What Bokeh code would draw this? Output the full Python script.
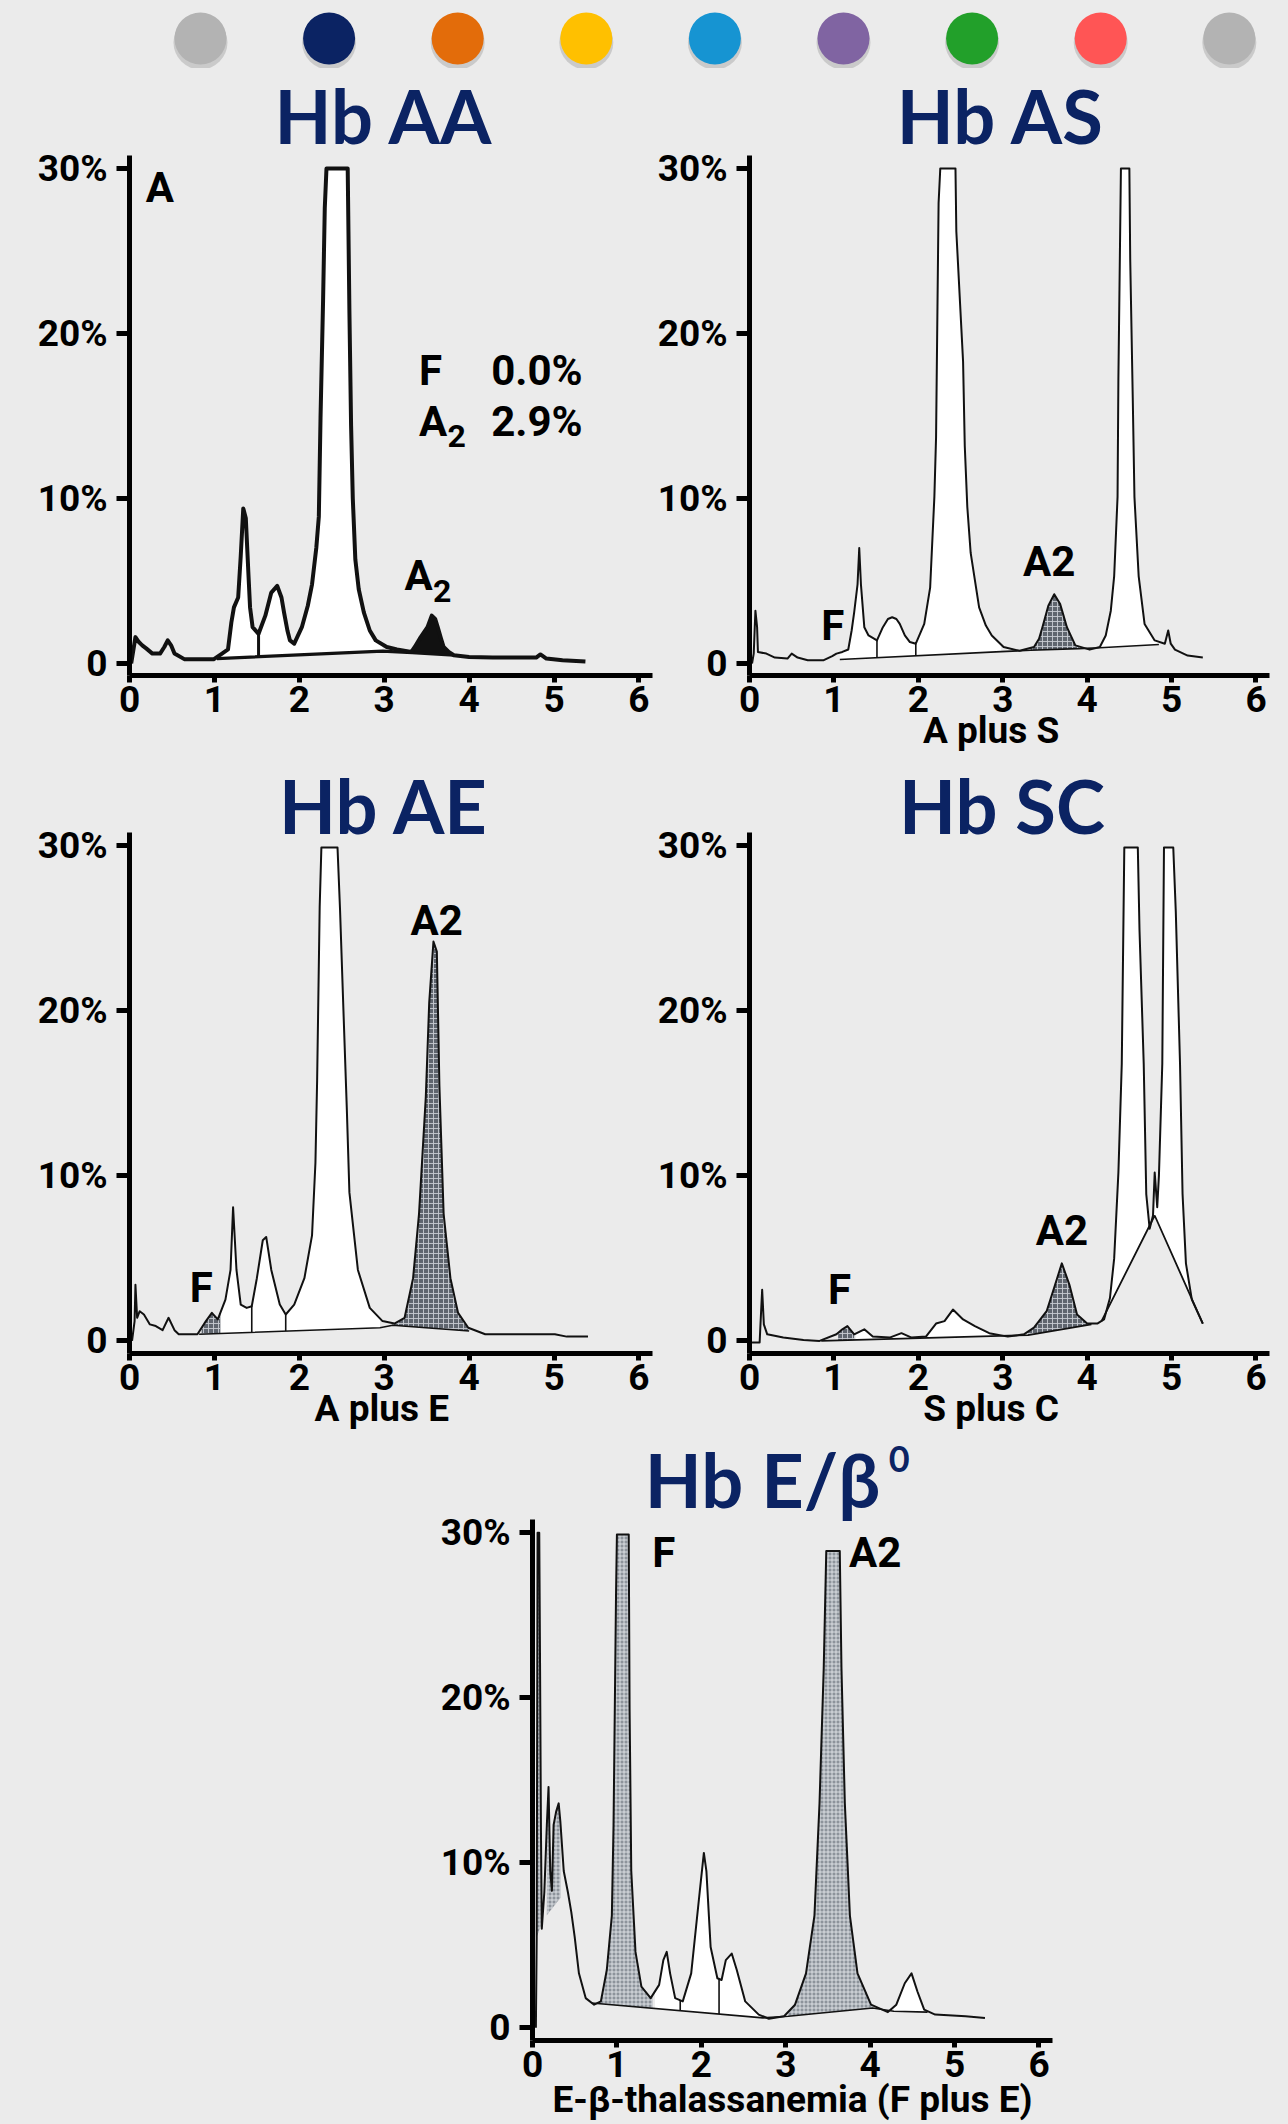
import numpy as np
from bokeh.plotting import figure
from bokeh.models import Label, FixedTicker, Range1d, Spacer
from bokeh.layouts import column, row
from bokeh.embed import file_html
from bokeh.resources import INLINE

BG = "#ebebeb"
NAVY = "#0b2363"
INK = "#111111"

# ---------------- header dots ----------------
dot_colors = ["#b3b3b3", "#0b2363", "#e36c0a", "#ffc000", "#1694d2",
              "#8064a2", "#22a02a", "#ff5555", "#b3b3b3"]
dot_index = list(range(len(dot_colors)))

# ---------------- axis ticks ----------------
x_ticks = [0, 1, 2, 3, 4, 5, 6]
y_ticks = [0, 10, 20, 30]
y_tick_labels = ["0", "10%", "20%", "30%"]

# ---------------- Hb AA ----------------
aa_x = [0.02, 0.07, 0.11, 0.15, 0.2, 0.27, 0.36, 0.41, 0.45, 0.49, 0.53, 0.65, 0.99, 1.09, 1.16,
        1.2, 1.23, 1.28, 1.31, 1.34, 1.37, 1.40, 1.42, 1.45, 1.52, 1.60, 1.67, 1.74, 1.79, 1.82,
        1.86, 1.89, 1.94, 2.03, 2.1, 2.15, 2.2, 2.23, 2.25, 2.28, 2.30, 2.32, 2.57, 2.59, 2.61,
        2.63, 2.66, 2.7, 2.76, 2.83, 2.90, 3.03, 3.15, 3.32, 3.36, 3.43, 3.51, 3.56, 3.60, 3.63,
        3.67, 3.70, 3.76, 3.82, 4.0, 4.28, 4.6, 4.79, 4.84, 4.91, 5.1, 5.37]
aa_y = [0.0, 1.6, 1.3, 1.1, 0.9, 0.6, 0.6, 1.0, 1.4, 1.1, 0.6, 0.25, 0.25, 0.6, 0.85,
        2.5, 3.4, 4.0, 6.5, 9.4, 8.8, 5.5, 3.4, 2.2, 1.8, 2.9, 4.3, 4.7, 4.0, 3.1,
        2.0, 1.4, 1.2, 2.2, 3.5, 4.8, 7.0, 8.9, 14.9, 22.0, 27.6, 30.0, 30.0, 21.4, 14.4,
        10.0, 6.3, 4.5, 3.1, 2.0, 1.4, 1.0, 0.85, 0.7, 1.0, 1.6, 2.2, 2.9, 2.7, 2.2,
        1.5, 1.0, 0.7, 0.5, 0.4, 0.36, 0.36, 0.36, 0.55, 0.3, 0.2, 0.12]
aa_base_x = [1.03, 2.98, 3.33, 3.82]
aa_base_y = [0.3, 0.75, 0.65, 0.5]
aa_white = [(1.03, 2.98)]
aa_dark = [(3.33, 3.82)]
aa_div = [1.52]

# ---------------- Hb AS ----------------
as_x = [0.03, 0.05, 0.07, 0.09, 0.10, 0.2, 0.30, 0.45, 0.50, 0.57, 0.69, 0.88, 0.98, 1.03, 1.10,
        1.17, 1.21, 1.24, 1.28, 1.30, 1.32, 1.36, 1.41, 1.51, 1.58, 1.64, 1.69, 1.74, 1.78, 1.84,
        1.90, 1.97, 2.07, 2.14, 2.19, 2.21, 2.24, 2.26, 2.44, 2.45, 2.53, 2.55, 2.58, 2.62, 2.72,
        2.80, 2.87, 3.01, 3.20, 3.37, 3.43, 3.47, 3.54, 3.61, 3.68, 3.72, 3.76, 3.86, 4.03, 4.15,
        4.22, 4.28, 4.32, 4.36, 4.37, 4.40, 4.50, 4.51, 4.54, 4.56, 4.61, 4.68, 4.80, 4.92, 4.96,
        4.99, 5.04, 5.19, 5.37]
as_y = [0.0, 0.6, 3.2, 2.2, 0.7, 0.6, 0.36, 0.3, 0.6, 0.36, 0.2, 0.2, 0.45, 0.6, 0.7,
        0.85, 2.0, 3.1, 4.8, 7.0, 4.8, 2.2, 1.7, 1.4, 2.2, 2.7, 2.8, 2.7, 2.4, 1.7,
        1.3, 1.2, 2.4, 4.6, 10.1, 13.7, 27.9, 30.0, 30.0, 26.2, 18.3, 13.2, 9.5, 6.7, 3.4,
        2.3, 1.7, 1.0, 0.77, 1.0, 1.5, 2.2, 3.5, 4.2, 3.6, 2.9, 2.2, 1.1, 0.84, 1.0,
        1.7, 3.2, 5.3, 10.1, 17.3, 30.0, 30.0, 24.5, 16.1, 10.1, 5.3, 2.4, 1.4, 1.2, 2.0,
        1.2, 0.84, 0.48, 0.36]
as_base_x = [1.07, 2.98, 3.33, 3.9, 4.15, 4.85]
as_base_y = [0.24, 0.72, 0.8, 0.9, 0.95, 1.15]
as_white = [(1.07, 2.98), (4.15, 4.85)]
as_dark = [(3.33, 3.9)]
as_div = [1.51, 1.97]

# ---------------- Hb AE ----------------
ae_x = [0.03, 0.06, 0.07, 0.09, 0.12, 0.17, 0.24, 0.31, 0.39, 0.46, 0.53, 0.58, 0.80, 0.90, 0.97,
        1.04, 1.13, 1.19, 1.22, 1.26, 1.31, 1.38, 1.44, 1.50, 1.57, 1.61, 1.67, 1.77, 1.84, 1.94,
        2.06, 2.15, 2.19, 2.21, 2.24, 2.26, 2.45, 2.48, 2.52, 2.56, 2.59, 2.69, 2.83, 2.98, 3.12,
        3.24, 3.34, 3.41, 3.49, 3.53, 3.58, 3.62, 3.65, 3.70, 3.78, 3.87, 3.99, 4.19, 4.53, 5.01,
        5.15, 5.40]
ae_y = [0.0, 1.2, 3.4, 1.4, 1.8, 1.6, 1.0, 0.9, 0.65, 1.4, 0.65, 0.4, 0.4, 1.2, 1.7,
        1.3, 2.5, 4.3, 8.1, 4.3, 2.2, 2.0, 2.1, 3.8, 6.1, 6.3, 4.3, 2.2, 1.6, 2.2,
        3.8, 6.4, 10.8, 15.8, 26.3, 29.9, 29.9, 26.1, 20.0, 14.0, 9.0, 4.3, 2.0, 1.2, 1.05,
        1.4, 3.8, 7.7, 14.8, 20.5, 24.2, 23.6, 15.5, 7.7, 3.8, 1.7, 0.8, 0.4, 0.4, 0.4,
        0.26, 0.26]
ae_base_x = [0.82, 1.07, 2.95, 3.1, 4.0]
ae_base_y = [0.4, 0.45, 0.8, 0.95, 0.6]
ae_white = [(1.07, 2.95)]
ae_dark = [(0.85, 1.07), (3.1, 4.0)]
ae_div = [1.44, 1.84]

# ---------------- Hb SC ----------------
sc_x = [0.03, 0.12, 0.13, 0.15, 0.17, 0.21, 0.40, 0.64, 0.83, 1.03, 1.10, 1.16, 1.24, 1.36, 1.46,
        1.66, 1.80, 1.92, 2.09, 2.21, 2.31, 2.41, 2.53, 2.67, 2.84, 3.06, 3.25, 3.37, 3.52, 3.62,
        3.70, 3.79, 3.88, 4.00, 4.12, 4.20, 4.27, 4.32, 4.37, 4.41, 4.44, 4.60, 4.62, 4.67, 4.70,
        4.74, 4.78, 4.80, 4.83, 4.85, 4.89, 4.91, 5.02, 5.05, 5.10, 5.13, 5.17, 5.24, 5.37]
sc_y = [-0.1, -0.1, 1.0, 3.1, 1.0, 0.4, 0.2, 0.05, 0.0, 0.4, 0.7, 0.9, 0.4, 0.7, 0.26,
        0.2, 0.47, 0.2, 0.26, 1.05, 1.2, 1.9, 1.3, 0.9, 0.47, 0.26, 0.4, 0.8, 1.8, 3.4,
        4.7, 3.4, 1.6, 1.05, 1.05, 1.3, 2.6, 5.0, 10.2, 16.8, 29.9, 29.9, 24.9, 16.8, 8.9,
        6.8, 7.6, 10.2, 8.1, 10.0, 16.8, 29.9, 29.9, 26.0, 16.8, 8.9, 4.7, 2.5, 1.05]
sc_base_x = [0.85, 3.3, 4.05]
sc_base_y = [0.0, 0.35, 1.0]
sc_skim_x = [4.17, 4.80, 5.37]
sc_skim_y = [1.2, 7.6, 1.05]
sc_white = [(1.26, 1.46), (1.7, 1.9), (2.12, 2.85)]
sc_white_skim = [(4.2, 5.3)]
sc_dark = [(1.05, 1.24), (3.3, 4.05)]

# ---------------- Hb E/beta0 ----------------
eb_x = [0.04, 0.05, 0.06, 0.08, 0.09, 0.10, 0.11, 0.14, 0.17, 0.19, 0.21, 0.23, 0.25, 0.28, 0.31,
        0.33, 0.37, 0.42, 0.46, 0.50, 0.55, 0.63, 0.73, 0.81, 0.88, 0.94, 0.96, 0.99, 1.00, 1.14,
        1.15, 1.17, 1.22, 1.29, 1.40, 1.50, 1.55, 1.59, 1.63, 1.69, 1.78, 1.88, 1.98, 2.03, 2.06,
        2.11, 2.19, 2.24, 2.29, 2.36, 2.42, 2.52, 2.68, 2.80, 2.98, 3.11, 3.24, 3.34, 3.40, 3.45,
        3.48, 3.64, 3.66, 3.70, 3.76, 3.85, 4.01, 4.21, 4.31, 4.41, 4.49, 4.56, 4.64, 4.77, 5.13,
        5.36]
eb_y = [0.0, 5.5, 30.0, 30.0, 21.5, 12.0, 6.0, 8.2, 12.3, 14.6, 9.5, 8.3, 12.3, 13.1, 13.6,
        12.5, 9.5, 8.2, 7.0, 5.5, 3.3, 1.8, 1.4, 1.6, 3.5, 6.8, 12.3, 26.5, 29.9, 29.9,
        19.4, 9.5, 4.6, 2.5, 1.8, 2.6, 4.1, 4.6, 3.3, 1.8, 1.6, 3.3, 8.2, 10.6, 9.5,
        4.9, 3.0, 2.9, 4.1, 4.5, 3.5, 1.6, 0.8, 0.55, 0.7, 1.4, 3.3, 6.8, 13.6, 21.8,
        28.9, 28.9, 21.8, 13.6, 6.8, 3.3, 1.4, 0.95, 1.4, 2.7, 3.3, 2.2, 1.1, 0.8, 0.7,
        0.6]
eb_base_x = [0.70, 2.73, 3.03, 4.03, 4.28, 4.68]
eb_base_y = [1.5, 0.6, 0.7, 1.2, 1.0, 0.95]
eb_spike_x = [0.05, 0.12, 0.35]
eb_spike_y = [5.5, 6.5, 8.0]
eb_white = [(1.45, 2.7), (4.28, 4.68)]
eb_dark = [(0.72, 1.42), (3.03, 4.03)]
eb_dark_spike = [(0.05, 0.11), (0.17, 0.33)]
eb_div = [1.75, 2.21]

# ---------------- geometry ----------------
PPU_Y = 16.5          # pixels per percent
X_END, AXIS_TOP = 6.16, 30.8
MID_SHIFT = {"Roboto": 0.342, "Lato": 0.387}   # baseline -> middle, in em
NB = "\u00a0"

WHITE = dict(fill_color="#ffffff", fill_alpha=1.0)
BLACK = dict(fill_color="#111111")
HATCH = dict(fill_color="#5f656e", hatch_pattern="+", hatch_color="#c6cad0",
             hatch_scale=5, hatch_weight=1, hatch_alpha=0.9)
HATCH_L = dict(fill_color="#8d939b", hatch_pattern="+", hatch_color="#e2e5e9",
               hatch_scale=4, hatch_weight=1, hatch_alpha=0.9)


def make_panel(width, bl, br, fh, bb, y_end, xlabel, label_standoff):
    y_start = y_end - fh / PPU_Y
    p = figure(width=width, height=fh + bb,
               x_range=Range1d(0, X_END), y_range=Range1d(y_start, y_end),
               output_backend="svg", toolbar_location=None,
               min_border_left=bl, min_border_right=br,
               min_border_top=0, min_border_bottom=bb,
               background_fill_color=BG, border_fill_color=BG,
               outline_line_color=None)
    p.title.visible = False
    p.grid.visible = False
    p.xaxis.ticker = FixedTicker(ticks=x_ticks)
    p.yaxis.ticker = FixedTicker(ticks=y_ticks)
    p.yaxis.major_label_overrides = {t: s for t, s in zip(y_ticks, y_tick_labels)}
    p.yaxis.bounds = (y_start, AXIS_TOP)
    for ax in p.axis:
        ax.axis_line_width = 5
        ax.axis_line_color = "black"
        ax.major_tick_line_width = 5
        ax.major_tick_line_color = "black"
        ax.major_tick_in = 0
        ax.minor_tick_line_color = None
        ax.major_label_text_font = "Roboto"
        ax.major_label_text_font_style = "bold"
        ax.major_label_text_font_size = "37px"
        ax.major_label_text_color = "black"
    p.yaxis.major_tick_out = 13
    p.yaxis.major_label_standoff = 9
    p.xaxis.major_tick_out = 7
    p.xaxis.major_label_standoff = 3
    p.xaxis.axis_label = xlabel
    p.xaxis.axis_label_text_font = "Roboto"
    p.xaxis.axis_label_text_font_style = "bold"
    p.xaxis.axis_label_text_font_size = "37px"
    p.xaxis.axis_label_text_color = "black"
    p.xaxis.axis_label_standoff = label_standoff
    return p


def fill(p, tx, ty, bx, by, a, b, style):
    tx = np.asarray(tx, dtype=float)
    ty = np.asarray(ty, dtype=float)
    inner = tx[(tx > a) & (tx < b)]
    xs = np.concatenate([[a], inner, [b]])
    y2 = np.interp(xs, tx, ty)
    y1 = np.interp(xs, bx, by)
    p.varea(x=xs, y1=y1, y2=y2, **style)


def dividers(p, tx, ty, bx, by, xs, lw):
    xs = np.asarray(xs, dtype=float)
    p.segment(x0=xs, y0=np.interp(xs, bx, by), x1=xs, y1=np.interp(xs, tx, ty),
              line_color=INK, line_width=lw)


def text(p, x, y_base, s, size=42, font="Roboto", color="black", align="left"):
    # y_base is the text baseline in data units; label is anchored at its middle
    y_mid = y_base + MID_SHIFT[font] * size / PPU_Y
    p.add_layout(Label(x=x, y=y_mid, text=s, text_font=font, text_font_size=f"{size}px",
                       text_font_style="bold", text_color=color,
                       text_align=align, text_baseline="middle"))


def title(p, x, y, s, align="center"):
    text(p, x, y, s, size=74, font="Lato", color=NAVY, align=align)


def trace(p, tx, ty, bx, by, lw):
    p.line(bx, by, line_color=INK, line_width=lw * 0.8)
    p.line(tx, ty, line_color=INK, line_width=lw, line_join="round")


# ---------------- header ----------------
hdr = figure(width=1280, height=68, x_range=Range1d(-1.555, 8.398), y_range=Range1d(0, 68),
             output_backend="svg", toolbar_location=None, x_axis_location=None,
             y_axis_location=None, min_border=0, background_fill_color=BG,
             border_fill_color=BG, outline_line_color=None)
hdr.title.visible = False
hdr.grid.visible = False
hdr.scatter(x=dot_index, y=[26] * len(dot_index), size=54, color="#555555", alpha=0.22, line_color=None)
hdr.scatter(x=dot_index, y=[30] * len(dot_index), size=52, color=dot_colors, line_color=None)

# ---------------- panel AA ----------------
p1 = make_panel(654, 129, 2, 607, 80, 36.0606, "", -6)
for a, b in aa_white:
    fill(p1, aa_x, aa_y, aa_base_x, aa_base_y, a, b, WHITE)
for a, b in aa_dark:
    fill(p1, aa_x, aa_y, aa_base_x, aa_base_y, a, b, BLACK)
dividers(p1, aa_x, aa_y, aa_base_x, aa_base_y, aa_div, 3)
trace(p1, aa_x, aa_y, aa_base_x, aa_base_y, 4.0)
title(p1, 3.0, 31.45, "Hb AA")
text(p1, 0.19, 28.0, "A")
text(p1, 3.41, 16.9, "F")
text(p1, 4.26, 16.9, "0.0%")
text(p1, 3.41, 13.8, "A")
text(p1, 3.745, 13.1, "2", size=32)
text(p1, 4.26, 13.8, "2.9%")
text(p1, 3.24, 4.45, "A")
text(p1, 3.575, 3.73, "2", size=32)

# ---------------- panel AS ----------------
p2 = make_panel(626, 92, 11, 607, 80, 36.0606, "A plus S" + NB * 4, -6)
for a, b in as_white:
    fill(p2, as_x, as_y, as_base_x, as_base_y, a, b, WHITE)
for a, b in as_dark:
    fill(p2, as_x, as_y, as_base_x, as_base_y, a, b, HATCH)
dividers(p2, as_x, as_y, as_base_x, as_base_y, as_div, 1.6)
trace(p2, as_x, as_y, as_base_x, as_base_y, 2.0)
title(p2, 2.98, 31.45, "Hb AS")
text(p2, 0.85, 1.44, "F")
text(p2, 3.24, 5.29, "A2")

# ---------------- panel AE ----------------
p3 = make_panel(654, 129, 2, 598, 80, 35.479, "A plus E" + NB * 2, -6)
for a, b in ae_white:
    fill(p3, ae_x, ae_y, ae_base_x, ae_base_y, a, b, WHITE)
for a, b in ae_dark:
    fill(p3, ae_x, ae_y, ae_base_x, ae_base_y, a, b, HATCH)
dividers(p3, ae_x, ae_y, ae_base_x, ae_base_y, ae_div, 1.6)
trace(p3, ae_x, ae_y, ae_base_x, ae_base_y, 2.0)
title(p3, 3.0, 30.71, "Hb AE")
text(p3, 0.71, 2.35, "F")
text(p3, 3.31, 24.6, "A2")

# ---------------- panel SC ----------------
p4 = make_panel(626, 92, 11, 598, 80, 35.479, "S plus C" + NB * 4, -6)
for a, b in sc_white:
    fill(p4, sc_x, sc_y, sc_base_x, sc_base_y, a, b, WHITE)
for a, b in sc_white_skim:
    fill(p4, sc_x, sc_y, sc_skim_x, sc_skim_y, a, b, WHITE)
for a, b in sc_dark:
    fill(p4, sc_x, sc_y, sc_base_x, sc_base_y, a, b, HATCH)
p4.line(sc_skim_x, sc_skim_y, line_color=INK, line_width=1.8)
trace(p4, sc_x, sc_y, sc_base_x, sc_base_y, 2.0)
title(p4, 2.99, 30.71, "Hb SC")
text(p4, 0.93, 2.23, "F")
text(p4, 3.39, 5.8, "A2")

# ---------------- panel E/beta0 ----------------
p5 = make_panel(650, 92, 35, 607, 84, 36.018, "E-β-thalassanemia (F plus E)", -2)
for a, b in eb_white:
    fill(p5, eb_x, eb_y, eb_base_x, eb_base_y, a, b, WHITE)
for a, b in eb_dark:
    fill(p5, eb_x, eb_y, eb_base_x, eb_base_y, a, b, HATCH_L)
for a, b in eb_dark_spike:
    fill(p5, eb_x, eb_y, eb_spike_x, eb_spike_y, a, b, HATCH_L)
dividers(p5, eb_x, eb_y, eb_base_x, eb_base_y, eb_div, 1.6)
trace(p5, eb_x, eb_y, eb_base_x, eb_base_y, 2.0)
title(p5, 1.33, 31.47, "Hb E/β", align="left")
text(p5, 4.22, 33.6, "0", size=36, font="Lato", color=NAVY)
text(p5, 1.42, 27.95, "F")
text(p5, 3.75, 27.95, "A2")

layout = column(hdr, row(p1, p2), row(p3, p4), row(Spacer(width=437, height=10), p5))

html = file_html(layout, INLINE, "Hemoglobin chromatograms")
html = html.replace("<body>", '<body style="background-color:#ebebeb;">')
open("out.html", "w").write(html)
